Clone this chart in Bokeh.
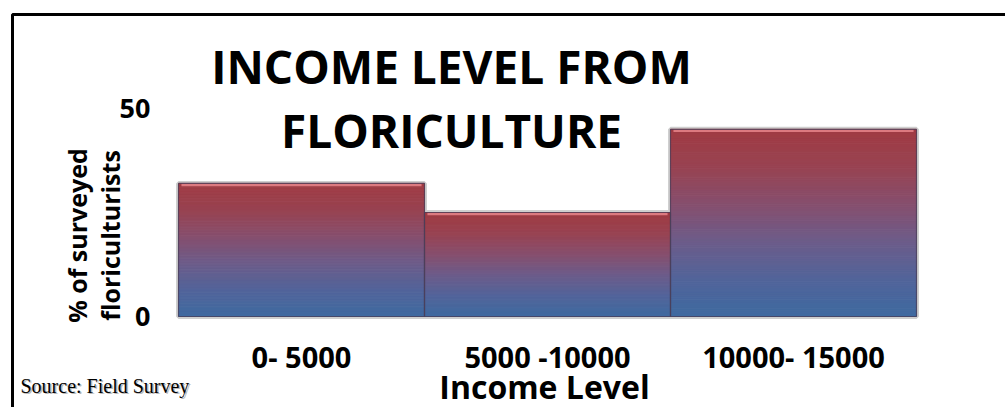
import math
from bokeh.plotting import figure
from bokeh.models import Range1d, Label, BoxAnnotation
from bokeh.embed import file_html
from bokeh.resources import INLINE

# ---- data ----
categories = ["0- 5000", "5000 -10000", "10000- 15000"]
percent = [32, 25, 45]
y_ticks = [0, 50]
y_tick_labels = ["0", "50"]
title_lines = ["INCOME LEVEL FROM", "FLORICULTURE"]
y_title_lines = ["% of surveyed", "floriculturists"]
x_title = "Income Level"
source_note = "Source: Field Survey"

# ---- layout (pixels of the 1005x407 canvas) ----
W, H = 1005, 407
PL, PR, PT, PB = 178, 916, 108, 316   # plot area: value axis 0..50, 3 category slots
V0, V1 = 0, 50
C0, C1 = 0, len(categories)


def dx(px):
    return C0 + (px - PL) / (PR - PL) * (C1 - C0)


def dy(py):
    return V0 + (PB - py) / (PB - PT) * (V1 - V0)


p = figure(width=W, height=H, x_range=Range1d(dx(0), dx(W)), y_range=Range1d(dy(H), dy(0)),
           output_backend="svg", toolbar_location=None,
           x_axis_location=None, y_axis_location=None, min_border=0)
p.title.visible = False
p.outline_line_color = None
p.background_fill_color = "white"
p.border_fill_color = "white"
p.grid.visible = False

# ---- gradient bars ----
stop_pos = [0.0, 0.2, 0.4, 0.6, 0.8, 1.0]
stop_col = ["#3E6AA0", "#52649A", "#6C5C8A", "#864F6E", "#984352", "#A03B43"]


def hex2rgb(h):
    return tuple(int(h[i:i + 2], 16) for i in (1, 3, 5))


def grad(t):
    for i in range(len(stop_pos) - 1):
        if stop_pos[i] <= t <= stop_pos[i + 1]:
            f = (t - stop_pos[i]) / (stop_pos[i + 1] - stop_pos[i])
            a, b = hex2rgb(stop_col[i]), hex2rgb(stop_col[i + 1])
            return "#%02x%02x%02x" % tuple(round(a[k] + (b[k] - a[k]) * f) for k in range(3))
    return stop_col[-1]


lefts = [i for i in range(len(categories))]
rights = [i + 1 for i in range(len(categories))]
centers = [i + 0.5 for i in range(len(categories))]

# soft shadow
p.quad(left=lefts, right=rights, bottom=[0] * len(percent), top=percent,
       fill_color=None, line_color="#CFCFCF", line_width=5)

N = 90
ql, qr, qb, qt, qc = [], [], [], [], []
for i, v in enumerate(percent):
    for k in range(N):
        ql.append(lefts[i]); qr.append(rights[i])
        qb.append(v * k / N); qt.append(v * (k + 1) / N)
        qc.append(grad((k + 0.5) / N))
p.quad(left=ql, right=qr, bottom=qb, top=qt, fill_color=qc, line_color=qc, line_width=1)

# bevel highlight on top edge
upx = (PB - PT) / (V1 - V0)
p.segment(x0=[l + 0.012 for l in lefts], x1=[r - 0.012 for r in rights],
          y0=[v - 1.5 / upx for v in percent], y1=[v - 1.5 / upx for v in percent],
          line_color="#DC7A80", line_width=2.5)
p.quad(left=lefts, right=rights, bottom=[0] * len(percent), top=percent,
       fill_color=None, line_color="#4A3E58", line_alpha=0.75, line_width=1.2)


def text(x, y, s, size, align="center", angle=0.0, font="Open Sans", style="bold",
         color="black", xo=0, yo=0):
    p.add_layout(Label(x=x, y=y, text=s, text_align=align, text_baseline="middle",
                       angle=angle, x_offset=xo, y_offset=yo,
                       text_font=font, text_font_style=style,
                       text_font_size=size, text_color=color))


# ---- tick labels ----
for t, lab in zip(y_ticks, y_tick_labels):
    text(dx(150), t, lab, "27px", align="right")
for c, lab in zip(centers, categories):
    text(c, dy(356), lab, "29px")

# ---- titles ----
for line, py in zip(title_lines, [65, 129]):
    text(dx(451), dy(py), line, "46px")

for line, px in zip(y_title_lines, [76, 109]):
    text(dx(px), dy(235), line, "25px", angle=math.pi / 2)

text(dx(544), dy(386), x_title, "32px")

text(dx(20), dy(385), source_note, "20px", align="left", font="Liberation Serif",
     style="normal", color="#B8B8B8", xo=1.5, yo=-1.5)
text(dx(20), dy(385), source_note, "20px", align="left", font="Liberation Serif",
     style="normal")

# ---- outer border ----
p.add_layout(BoxAnnotation(left=dx(12), right=dx(W + 30), top=dy(14), bottom=dy(H + 30),
                           fill_alpha=0, fill_color=None, line_color="black",
                           line_alpha=1.0, line_width=3))

open("out.html", "w").write(file_html(p, INLINE))
